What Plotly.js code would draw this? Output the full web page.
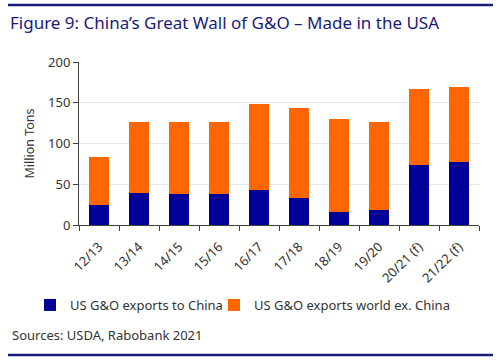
<!DOCTYPE html>
<html>
<head>
<meta charset="utf-8">
<script src="https://cdn.plot.ly/plotly-3.0.1.min.js"></script>
<style>html,body{margin:0;padding:0;background:#fff;}#chart{width:500px;height:362px;}</style>
</head>
<body>
<div id="chart"></div>
<script>
const categories = ["12/13","13/14","14/15","15/16","16/17","17/18","18/19","19/20","20/21 (f)","21/22 (f)"];
const exportsChina = [24.5, 39.5, 38.5, 38.5, 43, 33.5, 16.5, 18.5, 74, 77];
const exportsWorldExChina = [58.5, 87.5, 88.5, 88.5, 106, 110, 113.5, 107.5, 93, 92];
const yTicks = [0, 50, 100, 150, 200];

const L = 79, R = 479, T = 62, B = 225;
const px = x => (x - L) / (R - L);
const py = y => (B - y) / (B - T);
const navy = "#1b1b7a";
const font = "Noto Sans, Open Sans, sans-serif";

const traces = [
  {type: "bar", name: "US G&O exports to China", x: categories, y: exportsChina,
   marker: {color: "#000096"}, legend: "legend"},
  {type: "bar", name: "US G&O exports world ex. China", x: categories, y: exportsWorldExChina,
   marker: {color: "#ff6600"}, legend: "legend2"}
];

const legBase = {orientation: "h", xref: "container", yref: "container", y: 1 - 290/362,
                 xanchor: "left", yanchor: "top", font: {size: 13, color: "#333"},
                 itemwidth: 30, bgcolor: "rgba(0,0,0,0)"};

const layout = {
  width: 500, height: 362,
  margin: {l: L, r: 500 - R, t: T, b: 362 - B},
  paper_bgcolor: "#fff", plot_bgcolor: "#fff",
  barmode: "stack", bargap: 0.5,
  font: {family: font, size: 12, color: "#333"},
  showlegend: true,
  legend: Object.assign({}, legBase, {x: 30/500}),
  legend2: Object.assign({}, legBase, {x: 214/500}),
  title: {text: "Figure 9: China’s Great Wall of G&O – Made in the USA",
          xref: "container", yref: "container", x: 10/500, y: 1 - 23/362,
          xanchor: "left", yanchor: "middle",
          font: {family: font, size: 17, color: navy}},
  xaxis: {type: "category", tickson: "boundaries", ticks: "outside", ticklen: 5,
          tickcolor: "#404040", showline: true, linecolor: "#404040", linewidth: 1,
          tickangle: -45, showgrid: false, ticklabelstandoff: 8,
          tickfont: {size: 13, color: "#333"}},
  yaxis: {range: [0, 200], tickvals: yTicks, ticks: "outside", ticklen: 5,
          tickcolor: "#404040", showline: true, linecolor: "#404040", linewidth: 1,
          showgrid: true, gridcolor: "#e6e6e6", zeroline: false,
          tickfont: {size: 13, color: "#333"},
          title: {text: "Million Tons", font: {size: 12.5, color: "#333"}, standoff: 10}},
  shapes: [
    {type: "line", xref: "paper", yref: "paper", x0: px(8), x1: px(493), y0: py(5), y1: py(5),
     line: {color: navy, width: 2.5}},
    {type: "line", xref: "paper", yref: "paper", x0: px(8), x1: px(493), y0: py(355), y1: py(355),
     line: {color: navy, width: 2.5}}
  ],
  annotations: [
    {text: "Sources: USDA, Rabobank 2021", xref: "paper", yref: "paper", x: px(10), y: py(335),
     xanchor: "left", yanchor: "middle", showarrow: false, font: {size: 13, color: "#333"}}
  ]
};

Plotly.newPlot("chart", traces, layout, {displayModeBar: false, staticPlot: true});
</script>
</body>
</html>
